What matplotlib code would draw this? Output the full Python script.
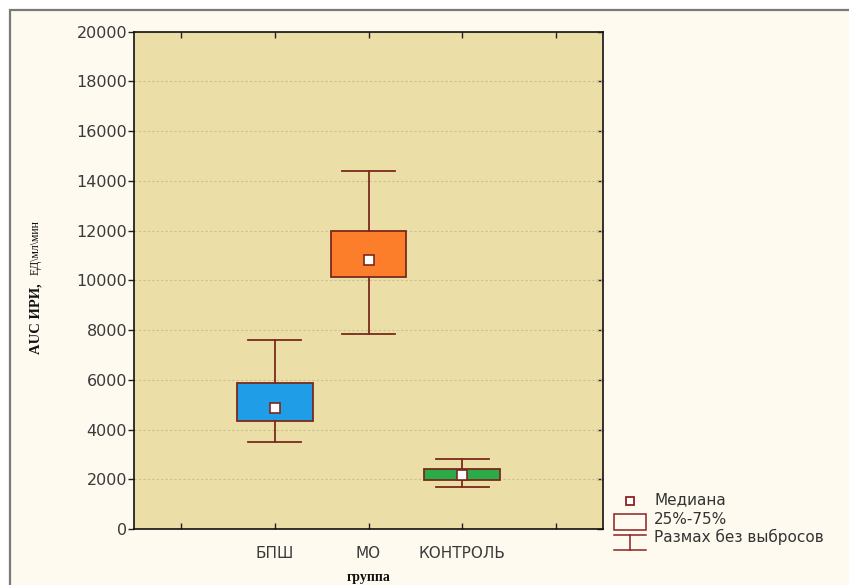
import matplotlib
matplotlib.use("Agg")
import matplotlib.pyplot as plt
from matplotlib.patches import Rectangle
from matplotlib.lines import Line2D

# Group summary statistics (AUC of immunoreactive insulin)
groups = ["БПШ", "МО", "КОНТРОЛЬ"]
q1 = [4355, 10145, 1958]
q3 = [5859, 11982, 2412]
medians = [4877, 10816, 2184]
whisker_low = [3498, 7829, 1701]
whisker_high = [7600, 14395, 2815]
box_colors = ["#1F9DE7", "#FD7E2A", "#2AAA48"]

y_ticks = [0, 2000, 4000, 6000, 8000, 10000, 12000, 14000, 16000, 18000, 20000]
x_tick_labels = ["", "БПШ", "МО", "КОНТРОЛЬ", ""]

W, H = 849, 585
fig = plt.figure(figsize=(W / 100, H / 100), dpi=100, facecolor="white")


def px(x, y):
    """Pixel position (from top-left) to figure fraction."""
    return x / W, 1 - y / H


# Panel frame
fig.patches.append(Rectangle(px(10, 600), 1.0, (600 - 10) / H,
                             transform=fig.transFigure, facecolor="#FEFAEF",
                             edgecolor="#7a7a7a", lw=1.6, zorder=-5))

ax = fig.add_axes([134 / W, 1 - 529 / H, (603 - 134) / W, (529 - 31.7) / H])
ax.set_zorder(2)
ax.set_facecolor("#EBDFA7")

edge = "#7A2A1C"
stats = []
for g, a, b, m, lo, hi in zip(groups, q1, q3, medians, whisker_low, whisker_high):
    stats.append(dict(label=g, q1=a, q3=b, med=m, whislo=lo, whishi=hi, fliers=[]))

positions = [1, 2, 3]
bp = ax.bxp(stats, positions=positions, widths=0.81, capwidths=0.57,
            patch_artist=True, showfliers=False,
            boxprops=dict(edgecolor=edge, linewidth=1.3),
            whiskerprops=dict(color=edge, linewidth=1.3),
            capprops=dict(color=edge, linewidth=1.3),
            medianprops=dict(linestyle="none"), zorder=3)
for patch, c in zip(bp["boxes"], box_colors):
    patch.set_facecolor(c)

ax.plot(positions, medians, linestyle="none", marker="s", ms=6.5,
        mfc="white", mec=edge, mew=1.2, zorder=4)

ax.set_xlim(-0.5, 4.5)
ax.set_ylim(0, 20000)
ax.set_yticks(y_ticks)
ax.set_yticklabels([str(v) for v in y_ticks], fontsize=11.5, color="#3a3a3a",
                   family="DejaVu Sans")
ax.set_xticks(range(5))
ax.set_xticklabels(x_tick_labels, fontsize=11, color="#3a3a3a", family="DejaVu Sans")
ax.yaxis.grid(True, linestyle=(0, (2, 2)), color="#cbc095", lw=0.8)
ax.set_axisbelow(True)

ax.tick_params(axis="y", direction="out", length=4, width=1, pad=1, color="#222")
ax.tick_params(axis="x", direction="in", length=4, width=1, pad=12, top=True,
               color="#222")
for s in ax.spines.values():
    s.set_linewidth(1.2)
    s.set_color("#111")

sec = ax.secondary_yaxis("right")
sec.set_yticks(y_ticks)
sec.tick_params(direction="in", length=4, width=1, labelright=False, color="#222")
sec.spines["right"].set_visible(False)

# Axis titles
fig.text(*px(36, 283), "AUC ИРИ,", rotation=90, ha="center", va="top",
         family="Liberation Serif", fontweight="bold", fontsize=10.5, color="#111")
fig.text(*px(36, 275), "ЕД\\мл\\мин", rotation=90, ha="center", va="bottom",
         family="Liberation Serif", fontsize=8.5, color="#111")
fig.text(*px(369, 578), "группа", ha="center", va="center",
         family="Liberation Serif", fontweight="bold", fontsize=10, color="#111")

# Legend key
leg_c = "#8B2222"
x0, x1, xc = 614, 646, 630
fig.add_artist(Line2D([px(xc, 0)[0]], [px(0, 501)[1]], marker="s", ms=5.5,
                      mfc="white", mec=leg_c, mew=1.3, linestyle="none"))
bx0, by0 = px(x0, 529.5)
bx1, by1 = px(x1, 514)
fig.patches.append(Rectangle((bx0, by0), bx1 - bx0, by1 - by0,
                             transform=fig.transFigure, facecolor="none",
                             edgecolor=leg_c, lw=1.1))
for yy in (534.5, 549.5):
    fig.add_artist(Line2D([px(x0, 0)[0], px(x1, 0)[0]], [px(0, yy)[1]] * 2,
                          color=leg_c, lw=1.1))
fig.add_artist(Line2D([px(xc, 0)[0]] * 2, [px(0, 534.5)[1], px(0, 549.5)[1]],
                      color=leg_c, lw=1.1))

legend_texts = [("Медиана", 500), ("25%-75%", 519.5), ("Размах без выбросов", 537)]
for t, yy in legend_texts:
    fig.text(*px(654, yy), t, ha="left", va="center", fontsize=11,
             color="#333333", family="DejaVu Sans")

fig.savefig("out.png", dpi=100, facecolor=fig.get_facecolor())
